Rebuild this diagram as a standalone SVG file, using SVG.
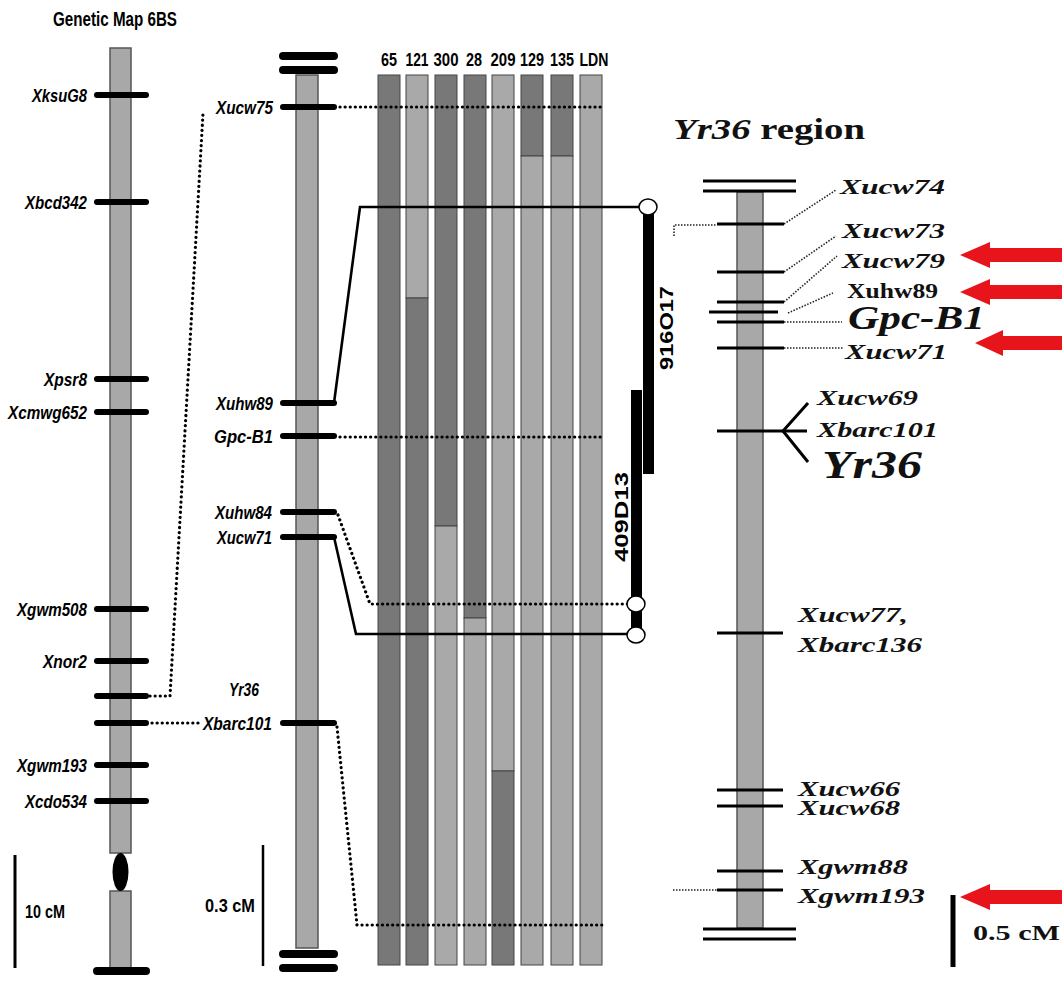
<svg xmlns="http://www.w3.org/2000/svg" width="1062" height="983" viewBox="0 0 1062 983">
<style>
.sans{font-family:"Liberation Sans",Arial,sans-serif;font-weight:bold;fill:#000}
.lab{font-family:"Liberation Sans",Arial,sans-serif;font-weight:bold;font-style:italic;font-size:19px;fill:#000}
.ser{font-family:"Liberation Serif","Times New Roman",serif;font-weight:bold;font-style:italic;fill:#111}
.up{font-style:normal}
.mk{stroke:#000;stroke-width:6;stroke-linecap:round;fill:none}
.mk2{stroke:#000;stroke-width:8;stroke-linecap:round;fill:none}
.thin{stroke:#000;stroke-width:3;fill:none}
.dot{stroke:#000;stroke-width:3.2;stroke-dasharray:0.1 5;stroke-linecap:round;fill:none}
.dot2{stroke:#222;stroke-width:1.6;stroke-dasharray:1.5 1.5;fill:none}
.sol{stroke:#000;stroke-width:2.6;fill:none}
.chr{fill:#a8a8a8;stroke:#555;stroke-width:1.5}
.dk{fill:#787878;stroke:#444;stroke-width:1}
.lt{fill:#a9a9a9;stroke:#444;stroke-width:1}
.arr{fill:#e8141b}
.circ{fill:#fff;stroke:#000;stroke-width:1.5}
</style>

<text class="sans" x="53" y="26" font-size="20" textLength="124" lengthAdjust="spacingAndGlyphs">Genetic Map 6BS</text>

<g id="map6BS">
<rect class="chr" x="110" y="48" width="21" height="805"/>
<rect class="chr" x="110" y="891" width="21" height="80"/>
<ellipse cx="120.5" cy="872" rx="8" ry="19" fill="#000"/>
<line class="mk" x1="97" y1="95" x2="146" y2="95"/>
<line class="mk" x1="97" y1="202" x2="146" y2="202"/>
<line class="mk" x1="97" y1="379" x2="146" y2="379"/>
<line class="mk" x1="97" y1="412" x2="146" y2="412"/>
<line class="mk" x1="97" y1="609" x2="146" y2="609"/>
<line class="mk" x1="97" y1="661" x2="146" y2="661"/>
<line class="mk" x1="97" y1="696" x2="146" y2="696"/>
<line class="mk" x1="97" y1="723" x2="146" y2="723"/>
<line class="mk" x1="97" y1="765" x2="146" y2="765"/>
<line class="mk" x1="97" y1="801" x2="146" y2="801"/>
<line class="mk2" x1="97" y1="971" x2="146" y2="971"/>
<text class="lab" x="87" y="102" text-anchor="end" textLength="55" lengthAdjust="spacingAndGlyphs">XksuG8</text>
<text class="lab" x="87" y="209" text-anchor="end" textLength="62" lengthAdjust="spacingAndGlyphs">Xbcd342</text>
<text class="lab" x="87" y="386" text-anchor="end" textLength="43" lengthAdjust="spacingAndGlyphs">Xpsr8</text>
<text class="lab" x="87" y="419" text-anchor="end" textLength="79" lengthAdjust="spacingAndGlyphs">Xcmwg652</text>
<text class="lab" x="87" y="616" text-anchor="end" textLength="70" lengthAdjust="spacingAndGlyphs">Xgwm508</text>
<text class="lab" x="87" y="668" text-anchor="end" textLength="44" lengthAdjust="spacingAndGlyphs">Xnor2</text>
<text class="lab" x="87" y="772" text-anchor="end" textLength="70" lengthAdjust="spacingAndGlyphs">Xgwm193</text>
<text class="lab" x="87" y="808" text-anchor="end" textLength="62" lengthAdjust="spacingAndGlyphs">Xcdo534</text>
<line x1="15" y1="855" x2="15" y2="968" stroke="#000" stroke-width="3"/>
<text class="sans" x="25" y="918" font-size="18" textLength="40" lengthAdjust="spacingAndGlyphs">10 cM</text>
</g>

<g id="map-fine">
<rect class="chr" x="296" y="75" width="22" height="873"/>
<line class="mk2" x1="283" y1="56" x2="334" y2="56"/>
<line class="mk2" x1="283" y1="70" x2="334" y2="70"/>
<line class="mk2" x1="283" y1="954" x2="334" y2="954"/>
<line class="mk2" x1="283" y1="968" x2="334" y2="968"/>
<line class="mk" x1="283" y1="107" x2="334" y2="107"/>
<line class="mk" x1="283" y1="403" x2="334" y2="403"/>
<line class="mk" x1="283" y1="436" x2="334" y2="436"/>
<line class="mk" x1="283" y1="512" x2="334" y2="512"/>
<line class="mk" x1="283" y1="537" x2="334" y2="537"/>
<line class="mk" x1="283" y1="723" x2="334" y2="723"/>
<text class="lab" x="273" y="114" text-anchor="end" textLength="57" lengthAdjust="spacingAndGlyphs">Xucw75</text>
<text class="lab" x="273" y="410" text-anchor="end" textLength="57" lengthAdjust="spacingAndGlyphs">Xuhw89</text>
<text class="lab" x="273" y="443" text-anchor="end" textLength="59" lengthAdjust="spacingAndGlyphs">Gpc-B1</text>
<text class="lab" x="272" y="519" text-anchor="end" textLength="57" lengthAdjust="spacingAndGlyphs">Xuhw84</text>
<text class="lab" x="272" y="544" text-anchor="end" textLength="55" lengthAdjust="spacingAndGlyphs">Xucw71</text>
<text class="lab" x="244" y="696" text-anchor="middle" textLength="30" lengthAdjust="spacingAndGlyphs">Yr36</text>
<text class="lab" x="272" y="730" text-anchor="end" textLength="69" lengthAdjust="spacingAndGlyphs">Xbarc101</text>
<line x1="263" y1="845" x2="263" y2="966" stroke="#000" stroke-width="2.5"/>
<text class="sans" x="205" y="912" font-size="18" textLength="50" lengthAdjust="spacingAndGlyphs">0.3 cM</text>
</g>

<g id="lines-header">
<text class="sans" font-size="19" y="66" text-anchor="middle" x="389" textLength="16" lengthAdjust="spacingAndGlyphs">65</text>
<text class="sans" font-size="19" y="66" text-anchor="middle" x="417" textLength="23" lengthAdjust="spacingAndGlyphs">121</text>
<text class="sans" font-size="19" y="66" text-anchor="middle" x="446" textLength="25" lengthAdjust="spacingAndGlyphs">300</text>
<text class="sans" font-size="19" y="66" text-anchor="middle" x="474" textLength="16" lengthAdjust="spacingAndGlyphs">28</text>
<text class="sans" font-size="19" y="66" text-anchor="middle" x="503" textLength="25" lengthAdjust="spacingAndGlyphs">209</text>
<text class="sans" font-size="19" y="66" text-anchor="middle" x="532" textLength="24" lengthAdjust="spacingAndGlyphs">129</text>
<text class="sans" font-size="19" y="66" text-anchor="middle" x="562" textLength="24" lengthAdjust="spacingAndGlyphs">135</text>
<text class="sans" font-size="19" y="66" text-anchor="middle" x="594" textLength="29" lengthAdjust="spacingAndGlyphs">LDN</text>
</g>

<g id="line-65"><rect class="dk" x="378" y="75" width="22" height="890"/></g>
<g id="line-121"><rect class="lt" x="406" y="75" width="22" height="223"/><rect class="dk" x="406" y="298" width="22" height="667"/></g>
<g id="line-300"><rect class="dk" x="435" y="75" width="22" height="451"/><rect class="lt" x="435" y="526" width="22" height="439"/></g>
<g id="line-28"><rect class="dk" x="464" y="75" width="22" height="543"/><rect class="lt" x="464" y="618" width="22" height="347"/></g>
<g id="line-209"><rect class="lt" x="492" y="75" width="22" height="696"/><rect class="dk" x="492" y="771" width="22" height="194"/></g>
<g id="line-129"><rect class="dk" x="521" y="75" width="22" height="81"/><rect class="lt" x="521" y="156" width="22" height="809"/></g>
<g id="line-135"><rect class="dk" x="551" y="75" width="22" height="81"/><rect class="lt" x="551" y="156" width="22" height="809"/></g>
<g id="line-LDN"><rect class="lt" x="580" y="75" width="22" height="890"/></g>

<g id="connectors">
<polyline class="dot" points="150,696 170,696 203,113"/>
<line class="dot" x1="152" y1="723" x2="199" y2="723"/>
<line class="dot" x1="340" y1="107" x2="602" y2="107"/>
<line class="dot" x1="340" y1="437" x2="602" y2="437"/>
<polyline class="dot" points="338,515 370,604 628,604"/>
<polyline class="dot" points="337,727 357,925 604,925"/>
<polyline class="sol" points="334,403 360,207 640,207"/>
<polyline class="sol" points="334,537 356,634 628,634"/>
<polyline class="dot2" points="674,236 674,225 717,225"/>
<line class="dot2" x1="673" y1="890" x2="717" y2="890"/>
<line class="dot2" x1="784" y1="224" x2="836" y2="190"/>
<line class="dot2" x1="784" y1="272" x2="836" y2="236"/>
<line class="dot2" x1="784" y1="302" x2="837" y2="256"/>
<line class="dot2" x1="788" y1="313" x2="833" y2="293"/>
<line class="dot2" x1="784" y1="322" x2="842" y2="322"/>
<line class="dot2" x1="784" y1="348" x2="843" y2="348"/>
</g>

<g id="bac-916O17">
<rect x="643" y="207" width="11" height="267" fill="#000"/>
<ellipse class="circ" cx="648" cy="207" rx="9" ry="8"/>
<text class="sans" font-size="18" transform="translate(673,328) rotate(-90)" text-anchor="middle" textLength="84" lengthAdjust="spacingAndGlyphs">916O17</text>
</g>
<g id="bac-409D13">
<rect x="631" y="390" width="11" height="245" fill="#000"/>
<ellipse class="circ" cx="636" cy="604" rx="9" ry="8"/>
<ellipse class="circ" cx="636" cy="635" rx="9" ry="8"/>
<text class="sans" font-size="18" transform="translate(628,517) rotate(-90)" text-anchor="middle" textLength="90" lengthAdjust="spacingAndGlyphs">409D13</text>
</g>

<g id="yr36-region">
<text class="ser" x="673" y="139" font-size="30" textLength="192" lengthAdjust="spacingAndGlyphs"><tspan>Yr36</tspan><tspan class="up"> region</tspan></text>
<rect class="chr" x="737" y="192" width="26" height="736" stroke="#333"/>
<line class="thin" x1="703" y1="181" x2="796" y2="181"/>
<line class="thin" x1="703" y1="191" x2="796" y2="191"/>
<line class="thin" x1="703" y1="929" x2="796" y2="929"/>
<line class="thin" x1="703" y1="939" x2="796" y2="939"/>
<line class="thin" x1="717" y1="224" x2="784" y2="224"/>
<line class="thin" x1="717" y1="272" x2="784" y2="272"/>
<line class="thin" x1="717" y1="302" x2="784" y2="302"/>
<line class="thin" x1="709" y1="312" x2="778" y2="312"/>
<line class="thin" x1="717" y1="322" x2="784" y2="322"/>
<line class="thin" x1="717" y1="348" x2="784" y2="348"/>
<line class="thin" x1="717" y1="431" x2="807" y2="431"/>
<polyline class="thin" points="808,403 783,431 808,462"/>
<line class="thin" x1="717" y1="633" x2="783" y2="633"/>
<line class="thin" x1="717" y1="790" x2="783" y2="790"/>
<line class="thin" x1="717" y1="806" x2="783" y2="806"/>
<line class="thin" x1="717" y1="871" x2="783" y2="871"/>
<line class="thin" x1="717" y1="890" x2="783" y2="890"/>
<text class="ser" x="840" y="194" font-size="22" textLength="105" lengthAdjust="spacingAndGlyphs">Xucw74</text>
<text class="ser" x="842" y="238" font-size="22" textLength="103" lengthAdjust="spacingAndGlyphs">Xucw73</text>
<text class="ser" x="842" y="268" font-size="22" textLength="103" lengthAdjust="spacingAndGlyphs">Xucw79</text>
<text class="ser up" x="847" y="298" font-size="20" textLength="91" lengthAdjust="spacingAndGlyphs">Xuhw89</text>
<text class="ser" x="848" y="329" font-size="34" textLength="137" lengthAdjust="spacingAndGlyphs">Gpc-B1</text>
<text class="ser" x="845" y="359" font-size="22" textLength="102" lengthAdjust="spacingAndGlyphs">Xucw71</text>
<text class="ser" x="817" y="405" font-size="22" textLength="101" lengthAdjust="spacingAndGlyphs">Xucw69</text>
<text class="ser" x="817" y="437" font-size="22" textLength="121" lengthAdjust="spacingAndGlyphs">Xbarc101</text>
<text class="ser" x="822" y="478" font-size="40" textLength="100" lengthAdjust="spacingAndGlyphs">Yr36</text>
<text class="ser" x="798" y="622" font-size="22" textLength="110" lengthAdjust="spacingAndGlyphs">Xucw77,</text>
<text class="ser" x="798" y="652" font-size="22" textLength="124" lengthAdjust="spacingAndGlyphs">Xbarc136</text>
<text class="ser" x="798" y="796" font-size="22" textLength="102" lengthAdjust="spacingAndGlyphs">Xucw66</text>
<text class="ser" x="798" y="815" font-size="22" textLength="102" lengthAdjust="spacingAndGlyphs">Xucw68</text>
<text class="ser" x="798" y="874" font-size="22" textLength="110" lengthAdjust="spacingAndGlyphs">Xgwm88</text>
<text class="ser" x="798" y="903" font-size="22" textLength="127" lengthAdjust="spacingAndGlyphs">Xgwm193</text>
<line x1="953" y1="895" x2="953" y2="967" stroke="#000" stroke-width="5"/>
<text class="ser up" x="973" y="940" font-size="20" textLength="87" lengthAdjust="spacingAndGlyphs">0.5 cM</text>
</g>

<g id="arrows">
<polygon class="arr" points="960,255 990,242 990,248 1062,248 1062,262 990,262 990,268"/>
<polygon class="arr" points="960,292 990,279 990,285 1062,285 1062,299 990,299 990,305"/>
<polygon class="arr" points="975,343 1003,330 1003,336 1062,336 1062,350 1003,350 1003,356"/>
<polygon class="arr" points="960,897 990,884 990,890 1062,890 1062,904 990,904 990,910"/>
</g>
</svg>
